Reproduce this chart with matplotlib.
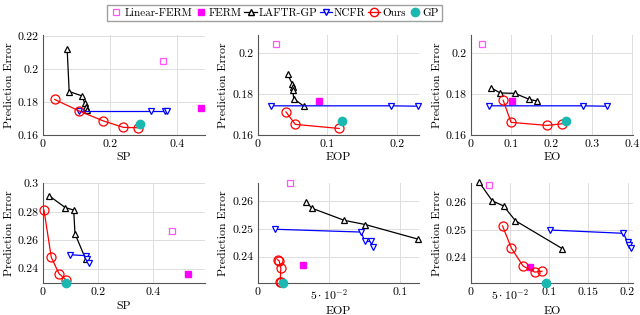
import matplotlib
matplotlib.use("Agg")
import matplotlib.pyplot as plt
from matplotlib.lines import Line2D

plt.rcParams['font.family'] = 'serif'
plt.rcParams['font.serif'] = ['cmr10', 'DejaVu Serif']
plt.rcParams['mathtext.fontset'] = 'cm'
plt.rcParams['axes.unicode_minus'] = False
plt.rcParams['axes.formatter.use_mathtext'] = True

# --- data (top row, then bottom row) ---
metric_names = ["SP", "EOP", "EO", "SP", "EOP", "EO"]

laftr_x = [[0.072, 0.078, 0.117, 0.124, 0.128, 0.132],
           [0.043, 0.0496, 0.050, 0.0505, 0.0516, 0.0663],
           [0.049, 0.0727, 0.109, 0.1445, 0.163],
           [0.0218, 0.081, 0.1115, 0.116, 0.155],
           [0.0338, 0.038, 0.0608, 0.0755, 0.1126],
           [0.0106, 0.0271, 0.0416, 0.0568, 0.1166]]
laftr_y = [[0.2121, 0.1863, 0.1836, 0.1792, 0.1770, 0.1750],
           [0.1897, 0.1851, 0.1835, 0.1820, 0.1778, 0.1741],
           [0.1832, 0.1806, 0.1804, 0.1775, 0.1767],
           [0.2913, 0.2829, 0.2812, 0.2646, 0.2466],
           [0.2599, 0.2575, 0.2531, 0.2516, 0.2463],
           [0.2674, 0.2607, 0.2588, 0.2534, 0.2432]]

ncfr_x = [[0.108, 0.322, 0.363, 0.370],
          [0.0186, 0.192, 0.2305],
          [0.0456, 0.279, 0.339],
          [0.097, 0.155, 0.161, 0.166],
          [0.0124, 0.0725, 0.075, 0.0793, 0.0807],
          [0.1009, 0.1947, 0.2001, 0.2019, 0.2044]]
ncfr_y = [[0.1745, 0.1745, 0.1745, 0.1745],
          [0.1743, 0.1743, 0.1741],
          [0.1743, 0.1743, 0.1741],
          [0.2498, 0.2491, 0.2466, 0.2442],
          [0.2499, 0.2489, 0.2455, 0.2455, 0.2434],
          [0.2500, 0.2488, 0.2457, 0.2445, 0.2433]]

ours_x = [[0.035, 0.108, 0.180, 0.240, 0.282],
          [0.0406, 0.054, 0.117],
          [0.080, 0.0997, 0.189, 0.227],
          [0.0036, 0.030, 0.058, 0.085],
          [0.0140, 0.0150, 0.0162, 0.0158, 0.0160],
          [0.0403, 0.0517, 0.0666, 0.0814, 0.0907]]
ours_y = [[0.1815, 0.1745, 0.1685, 0.1646, 0.1644],
          [0.1713, 0.1652, 0.1632],
          [0.1770, 0.1662, 0.1647, 0.1655],
          [0.2812, 0.2480, 0.2365, 0.2318],
          [0.2389, 0.2385, 0.2360, 0.2310, 0.2308],
          [0.2515, 0.2433, 0.2368, 0.2346, 0.2349]]

gp_x = [0.288, 0.1212, 0.237, 0.085, 0.0179, 0.0954]
gp_y = [0.1667, 0.1670, 0.1668, 0.2302, 0.2306, 0.2307]
linferm_x = [0.358, 0.0263, 0.027, 0.467, 0.0226, 0.0229]
linferm_y = [0.2045, 0.2045, 0.2045, 0.2665, 0.2665, 0.2665]
ferm_x = [0.472, 0.0883, 0.103, 0.525, 0.0318, 0.075]
ferm_y = [0.1762, 0.1765, 0.1765, 0.2360, 0.2370, 0.2366]

xlims = [(0, 0.483), (0, 0.2315), (0, 0.403), (0, 0.588), (0, 0.113), (0, 0.207)]
ylims = [(0.16, 0.2205), (0.16, 0.209), (0.16, 0.209),
         (0.2297, 0.3), (0.2304, 0.2665), (0.2305, 0.2671)]
xticks = [[0, 0.2, 0.4], [0, 0.1, 0.2], [0, 0.1, 0.2, 0.3, 0.4],
          [0, 0.2, 0.4], [0, 0.05, 0.1], [0, 0.05, 0.1, 0.15, 0.2]]
xticklabels = [["0", "0.2", "0.4"], ["0", "0.1", "0.2"],
               ["0", "0.1", "0.2", "0.3", "0.4"], ["0", "0.2", "0.4"],
               ["0", r"$5\cdot10^{-2}$", "0.1"],
               ["0", r"$5\cdot10^{-2}$", "0.1", "0.15", "0.2"]]
yticks = [[0.16, 0.18, 0.2, 0.22], [0.16, 0.18, 0.2], [0.16, 0.18, 0.2],
          [0.24, 0.26, 0.28, 0.3], [0.24, 0.25, 0.26], [0.24, 0.25, 0.26]]
yticklabels = [["0.16", "0.18", "0.2", "0.22"], ["0.16", "0.18", "0.2"],
               ["0.16", "0.18", "0.2"], ["0.24", "0.26", "0.28", "0.3"],
               ["0.24", "0.25", "0.26"], ["0.24", "0.25", "0.26"]]

teal = '#1bb8b2'
fig = plt.figure(figsize=(6.4, 3.15), dpi=100)

# axes boxes in pixels: left, right, top, bottom
lefts = [43, 257.7, 471]
rights = [205, 419, 633]
tops = [35, 183.3]
bots = [135, 283.3]

for i in range(6):
    r, c = divmod(i, 3)
    ax = fig.add_axes([lefts[c] / 640, 1 - bots[r] / 315,
                       (rights[c] - lefts[c]) / 640, (bots[r] - tops[r]) / 315])
    ax.plot(linferm_x[i], linferm_y[i], ls='none', marker='s', ms=5,
            mfc='white', mec='#ff55ff', mew=0.9, clip_on=False, zorder=3)
    ax.plot(ferm_x[i], ferm_y[i], ls='none', marker='s', ms=5,
            mfc='magenta', mec='magenta', clip_on=False, zorder=3)
    ax.plot(laftr_x[i], laftr_y[i], color='black', lw=0.9, marker='^', ms=5,
            mfc='white', mec='black', mew=0.9, clip_on=False, zorder=4)
    ax.plot(ncfr_x[i], ncfr_y[i], color='blue', lw=0.9, marker='v', ms=5,
            mfc='white', mec='blue', mew=0.9, clip_on=False, zorder=4)
    ax.plot(ours_x[i], ours_y[i], color='red', lw=0.9, marker='o', ms=6.5,
            mfc='none', mec='red', mew=0.9, clip_on=False, zorder=5)
    ax.plot(gp_x[i], gp_y[i], ls='none', marker='o', ms=6,
            mfc=teal, mec=teal, clip_on=False, zorder=6)

    ax.set_xlim(*xlims[i])
    ax.set_ylim(*ylims[i])
    ax.set_xticks(xticks[i])
    ax.set_xticklabels(xticklabels[i])
    ax.set_yticks(yticks[i])
    ax.set_yticklabels(yticklabels[i])
    ax.tick_params(length=0, labelsize=8.5, pad=3)
    ax.grid(True, color='#dddddd', lw=0.7)
    ax.set_axisbelow(True)
    for s in ['top', 'right']:
        ax.spines[s].set_visible(False)
    for s in ['left', 'bottom']:
        ax.spines[s].set_color('#555555')
        ax.spines[s].set_linewidth(0.8)
    ax.set_xlabel(metric_names[i], fontsize=8.5, labelpad=3)
    ax.set_ylabel("Prediction Error", fontsize=8.5, labelpad=3)

handles = [
    Line2D([], [], ls='none', marker='s', ms=5, mfc='white', mec='#ff55ff', mew=0.9),
    Line2D([], [], ls='none', marker='s', ms=5, mfc='magenta', mec='magenta'),
    Line2D([], [], color='black', lw=0.9, marker='^', ms=5, mfc='white', mec='black'),
    Line2D([], [], color='blue', lw=0.9, marker='v', ms=5, mfc='white', mec='blue'),
    Line2D([], [], color='red', lw=0.9, marker='o', ms=6, mfc='none', mec='red'),
    Line2D([], [], ls='none', marker='o', ms=6, mfc=teal, mec=teal),
]
labels = ["Linear-FERM", "FERM", "LAFTR-GP", "NCFR", "Ours", "GP"]
fig.legend(handles, labels, loc='center', bbox_to_anchor=(274.5 / 640, 1 - 13 / 315),
           ncol=6, fontsize=8, frameon=True, fancybox=False, edgecolor='#888888',
           handlelength=1.1, handletextpad=0.15, columnspacing=0.25,
           borderpad=0.3, borderaxespad=0)

fig.savefig("out.png", dpi=100)
